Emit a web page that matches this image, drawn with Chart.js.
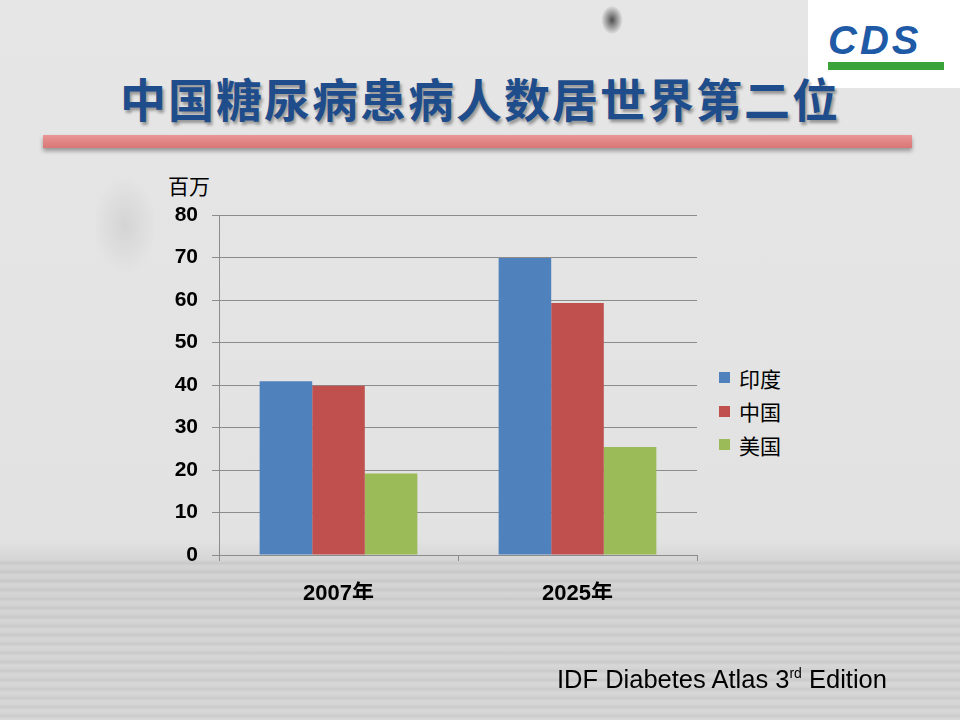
<!DOCTYPE html>
<html>
<head>
<meta charset="utf-8">
<script src="https://cdn.jsdelivr.net/npm/chart.js@4"></script>
<style>
  html, body { margin: 0; padding: 0; }
  body {
    width: 960px; height: 720px; position: relative; overflow: hidden;
    font-family: "Liberation Sans", "Noto Sans CJK SC", sans-serif;
    background:
      radial-gradient(ellipse 45px 70px at 125px 225px, rgba(120,120,120,0.15), rgba(0,0,0,0) 70%),
      radial-gradient(ellipse 12px 16px at 612px 20px, rgba(40,40,40,0.8), rgba(0,0,0,0) 90%),
      repeating-linear-gradient(180deg, rgba(0,0,0,0.0) 0px, rgba(0,0,0,0.05) 3px, rgba(255,255,255,0.05) 6px, rgba(0,0,0,0) 9px) 0 560px / 960px 160px no-repeat,
      linear-gradient(180deg, #e6e6e6 0px, #e2e2e2 540px, #d2d2d2 565px, #d6d6d6 720px);
  }
  #logo {
    position: absolute; left: 808px; top: 0; width: 152px; height: 88px; background: #fff;
  }
  #logo .cds {
    position: absolute; left: 20px; top: 18px; font: italic bold 40px "Liberation Sans", sans-serif;
    color: #1e5aa6; letter-spacing: 3px;
  }
  #logo .bar {
    position: absolute; left: 20px; top: 62px; width: 116px; height: 8px; background: #3aa33a;
  }
  #title {
    position: absolute; left: 0; width: 960px; top: 64px; text-align: center;
    font: bold 46px "Noto Sans CJK SC", sans-serif; color: #1f4d8c; letter-spacing: 2px;
    text-shadow: 2px 3px 3px rgba(0,0,0,0.35);
  }
  #rule {
    position: absolute; left: 43px; top: 135px; width: 869px; height: 13px;
    background: linear-gradient(180deg, #e99696, #e08282 60%, #d87676);
    box-shadow: 0 3px 4px rgba(0,0,0,0.35);
  }
  #unit {
    position: absolute; left: 168px; top: 170px; font: 21px "Noto Sans CJK SC", sans-serif; color: #000;
  }
  #legend { position: absolute; left: 719px; top: 361px; }
  #legend .item { height: 33.5px; display: flex; align-items: center; font: 21px "Noto Sans CJK SC", sans-serif; color: #000; }
  #legend .sw { width: 11px; height: 11px; margin-right: 9px; }
  #source {
    position: absolute; left: 557px; top: 665px; font: 25.5px "Liberation Sans", sans-serif; color: #000;
  }
  #source sup { font-size: 14px; vertical-align: 10px; }
  #c { position: absolute; left: 0; top: 0; }
</style>
</head>
<body>
<div id="logo"><div class="cds">CDS</div><div class="bar"></div></div>
<div id="title">中国糖尿病患病人数居世界第二位</div>
<div id="rule"></div>
<div id="unit">百万</div>
<div id="legend"></div>
<canvas id="c" width="960" height="720"></canvas>
<div id="source">IDF Diabetes Atlas 3<sup>rd</sup> Edition</div>
<script>
const categories = ['2007年', '2025年']
const seriesNames = ['印度', '中国', '美国']
const india = [40.9, 69.9]
const china = [39.8, 59.3]
const usa = [19.2, 25.4]
const colors = ['#4f81bd', '#c0504d', '#9bbb59']
const yTicks = [0, 10, 20, 30, 40, 50, 60, 70, 80]

const tickFont = { family: '"Liberation Sans", "Noto Sans CJK SC", sans-serif', size: 21, weight: 'bold' }

// legend is plain html, built from the series arrays
const legendEl = document.getElementById('legend')
seriesNames.forEach((name, i) => {
  const row = document.createElement('div')
  row.className = 'item'
  row.innerHTML = '<span class="sw" style="background:' + colors[i] + '"></span>' + name
  legendEl.appendChild(row)
})

new Chart(document.getElementById('c'), {
  type: 'bar',
  data: {
    labels: categories,
    datasets: [india, china, usa].map((d, i) => ({
      label: seriesNames[i],
      data: d,
      backgroundColor: colors[i],
      borderWidth: 0,
      categoryPercentage: 0.66,
      barPercentage: 1.0
    }))
  },
  options: {
    responsive: false,
    animation: false,
    layout: { padding: { left: 170, top: 215, right: 263, bottom: 120 } },
    plugins: {
      tooltip: { enabled: false },
      legend: { display: false }
    },
    scales: {
      y: {
        min: 0, max: 80,
        afterBuildTicks: s => { s.ticks = yTicks.map(v => ({ value: v })) },
        afterFit: s => { s.width = 49 },
        ticks: { color: '#000', font: tickFont, padding: 14 },
        grid: { color: '#8c8c8c', lineWidth: 1, tickLength: 7, tickColor: '#8c8c8c' },
        border: { color: '#8c8c8c' }
      },
      x: {
        afterFit: s => { s.height = 45 },
        ticks: { color: '#000', font: { ...tickFont, size: 22 }, padding: 20 },
        grid: { offset: true, drawOnChartArea: false, tickLength: 6, color: '#8c8c8c' },
        border: { color: '#8c8c8c' }
      }
    }
  }
})
</script>
</body>
</html>
